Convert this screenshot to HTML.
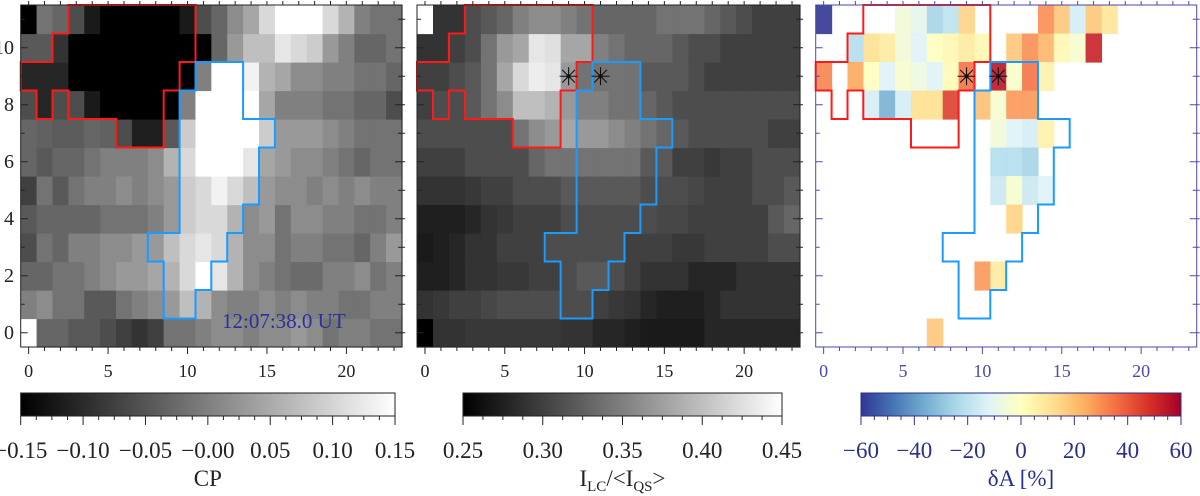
<!DOCTYPE html>
<html><head><meta charset="utf-8">
<style>
html,body{margin:0;padding:0;background:#fff;}
svg, svg text{display:block;font-family:"Liberation Serif","DejaVu Serif",serif;}
</style></head>
<body>
<svg id="fig" width="1200" height="496" viewBox="0 0 1200 496" font-family="Liberation Serif, serif" xmlns="http://www.w3.org/2000/svg"></svg>
<script>
// ---- data ----
// Panel 1: circular polarization CP, rows from y=0 (bottom) to y=11 (top), 24 columns each (gray fraction)
const cpGray = [
[1.0,0.4,0.4,0.35,0.35,0.3,0.25,0.2,0.25,0.45,0.45,0.5,0.55,0.55,0.5,0.55,0.55,0.6,0.55,0.45,0.5,0.5,0.45,0.45],
[0.5,0.55,0.45,0.45,0.35,0.35,0.45,0.5,0.55,0.6,0.75,0.7,0.55,0.5,0.5,0.55,0.5,0.55,0.5,0.5,0.45,0.45,0.5,0.5],
[0.4,0.4,0.45,0.45,0.5,0.55,0.6,0.6,0.65,0.7,0.85,1.0,0.9,0.7,0.55,0.5,0.45,0.42,0.42,0.5,0.5,0.55,0.45,0.5],
[0.3,0.45,0.4,0.5,0.5,0.55,0.55,0.6,0.6,0.75,0.85,0.9,0.85,0.7,0.55,0.55,0.45,0.5,0.5,0.45,0.45,0.4,0.5,0.6],
[0.35,0.4,0.4,0.4,0.4,0.45,0.45,0.45,0.5,0.6,0.8,0.85,0.85,0.7,0.55,0.6,0.45,0.55,0.55,0.5,0.5,0.45,0.45,0.5],
[0.25,0.45,0.35,0.45,0.5,0.5,0.55,0.5,0.55,0.6,0.8,0.85,0.95,0.85,0.75,0.6,0.55,0.55,0.5,0.55,0.5,0.55,0.5,0.5],
[0.4,0.35,0.4,0.4,0.45,0.5,0.5,0.5,0.55,0.7,0.85,1,1,1,0.9,0.65,0.6,0.55,0.55,0.5,0.45,0.4,0.45,0.45],
[0.4,0.38,0.36,0.36,0.4,0.38,0.3,0.12,0.12,0.35,0.8,1,1,1,1,0.8,0.6,0.6,0.6,0.55,0.5,0.45,0.45,0.45],
[0.3,0.15,0.3,0.3,0.1,0,0,0,0,0,0.5,1,1,1,1,0.65,0.5,0.5,0.5,0.45,0.45,0.4,0.4,0.3],
[0.15,0.15,0.15,0,0,0,0,0,0,0,0,0.5,1,1,0.95,0.7,0.65,0.55,0.55,0.5,0.5,0.45,0.45,0.4],
[0.35,0.35,0.2,0,0,0,0,0,0,0,0,0,0.4,0.6,0.75,0.75,0.9,0.85,0.8,0.6,0.5,0.4,0.4,0.45],
[0,0.45,0.4,0.3,0.1,0,0,0,0,0,0.1,0.3,0.4,0.55,0.65,0.85,1,1,1,0.85,0.7,0.5,0.45,0.45]
];
// Panel 2: continuum intensity (gray fraction of 0.25..0.45 range)
const icGray = [
[0.0,0.2,0.2,0.22,0.22,0.22,0.22,0.22,0.22,0.2,0.2,0.15,0.15,0.12,0.1,0.1,0.1,0.1,0.15,0.15,0.15,0.15,0.15,0.15],
[0.2,0.22,0.25,0.25,0.28,0.3,0.3,0.3,0.3,0.3,0.3,0.25,0.22,0.2,0.15,0.12,0.12,0.12,0.15,0.2,0.2,0.2,0.2,0.2],
[0.12,0.12,0.15,0.2,0.2,0.22,0.22,0.25,0.25,0.3,0.35,0.35,0.3,0.25,0.2,0.2,0.2,0.15,0.15,0.15,0.2,0.2,0.2,0.2],
[0.1,0.12,0.15,0.2,0.2,0.25,0.25,0.25,0.3,0.3,0.3,0.3,0.3,0.25,0.25,0.25,0.22,0.22,0.25,0.25,0.25,0.25,0.3,0.3],
[0.12,0.12,0.12,0.15,0.2,0.22,0.25,0.25,0.25,0.3,0.3,0.3,0.3,0.3,0.3,0.28,0.28,0.25,0.25,0.25,0.25,0.25,0.35,0.4],
[0.2,0.2,0.2,0.22,0.25,0.25,0.3,0.3,0.3,0.35,0.35,0.35,0.35,0.35,0.3,0.3,0.3,0.28,0.25,0.25,0.25,0.3,0.3,0.35],
[0.25,0.25,0.25,0.3,0.3,0.3,0.3,0.4,0.45,0.45,0.45,0.45,0.45,0.45,0.35,0.35,0.25,0.25,0.22,0.25,0.25,0.3,0.3,0.3],
[0.3,0.3,0.3,0.3,0.3,0.3,0.45,0.55,0.6,0.65,0.6,0.6,0.55,0.5,0.45,0.4,0.35,0.3,0.3,0.3,0.3,0.3,0.25,0.25],
[0.25,0.3,0.3,0.35,0.45,0.55,0.75,0.75,0.7,0.6,0.5,0.5,0.45,0.45,0.4,0.35,0.3,0.3,0.3,0.3,0.3,0.3,0.3,0.3],
[0.25,0.25,0.3,0.35,0.45,0.65,0.85,0.93,0.9,0.6,0.45,0.45,0.45,0.45,0.35,0.35,0.35,0.3,0.25,0.25,0.25,0.25,0.25,0.25],
[0.2,0.2,0.25,0.3,0.45,0.6,0.65,0.9,0.88,0.65,0.65,0.5,0.45,0.4,0.4,0.4,0.35,0.3,0.3,0.25,0.25,0.25,0.25,0.25],
[1.0,0.2,0.2,0.3,0.35,0.4,0.5,0.55,0.55,0.5,0.45,0.4,0.4,0.4,0.4,0.45,0.45,0.45,0.4,0.35,0.3,0.25,0.25,0.25]
];
// Panel 3: sparse δA [%] values
const daCols = [0,5,6,7,8,9,14,15,16,17,18, 2,3,4,5,6,7,8,9,10,12,13,14,15,16,17, 0,2,3,4,5,6,7,8,9,11,12,13,14, 3,4,5,6,7,8,10,11,12,13, 11,12,13,14, 11,12,13, 11,12,13,14, 12, 10,11, 7];
const daRows = [11,11,11,11,11,11,11,11,11,11,11, 10,10,10,10,10,10,10,10,10,10,10,10,10,10,10, 9,9,9,9,9,9,9,9,9,9,9,9,9, 8,8,8,8,8,8,8,8,8,8, 7,7,7,7, 6,6,6, 5,5,5,5, 4, 2,2, 0];
const daVals = [-60,-5,-10,-25,-20,15,30,18,-15,18,10, -22,12,8,-5,-12,0,3,8,3,18,30,22,3,-3,52, 32,25,0,-12,-3,-7,-12,2,35,55,-2,35,5, -15,-35,-15,12,12,45,20,-3,28,28, -5,-12,-15,5, -22,-22,-25, -17,-3,-17,-12, 15, 28,8, 18];
const xTicks = [0,5,10,15,20];
const yTicks = [0,2,4,6,8,10];
const cpTicks = ["-0.15","-0.10","-0.05","-0.00","0.05","0.10","0.15"];
const icTicks = ["0.25","0.30","0.35","0.40","0.45"];
const daTicks = ["-60","-40","-20","0","20","40","60"];
const redContour = [[2.5,11.5],[10.5,11.5],[10.5,9.5],[9.5,9.5],[9.5,8.5],[8.5,8.5],[8.5,6.5],[5.5,6.5],[5.5,7.5],[2.5,7.5],[2.5,8.5],[1.5,8.5],[1.5,7.5],[0.5,7.5],[0.5,8.5],[-0.5,8.5],[-0.5,9.5],[1.5,9.5],[1.5,10.5],[2.5,10.5]];
const blueContour = [[10.5,9.5],[13.5,9.5],[13.5,7.5],[15.5,7.5],[15.5,6.5],[14.5,6.5],[14.5,4.5],[13.5,4.5],[13.5,3.5],[12.5,3.5],[12.5,2.5],[11.5,2.5],[11.5,1.5],[10.5,1.5],[10.5,0.5],[8.5,0.5],[8.5,2.5],[7.5,2.5],[7.5,3.5],[9.5,3.5],[9.5,8.5],[10.5,8.5]];
const starsX = [9,11];
const starsY = [9,9];

// ---- rendering ----
const NS = "http://www.w3.org/2000/svg";
const svg = document.getElementById('fig');
const FONT = '"Liberation Serif", "DejaVu Serif", serif';
function mk(tag, attrs, parent){const e=document.createElementNS(NS,tag);for(const k in attrs)e.setAttribute(k,attrs[k]);if(tag==='text')e.style.fontFamily=FONT;(parent||svg).appendChild(e);return e;}
const TOP=5, BOT=347, NR=12, NC=24;
const panels=[{x0:20.7,x1:402},{x0:417,x1:800},{x0:815.7,x1:1196.7}];
function sx(p,v){return p.x0+(v+0.5)*(p.x1-p.x0)/NC;}
function sy(v){return BOT-(v+0.5)*(BOT-TOP)/NR;}
function grayCol(g){const c=Math.round(255*Math.max(0,Math.min(1,g)));return `rgb(${c},${c},${c})`;}
const rdylbu=[[49,54,149],[69,117,180],[116,173,209],[171,217,233],[224,243,248],[255,255,191],[254,224,144],[253,174,97],[244,109,67],[215,48,39],[165,0,38]];
function daColor(v){let t=(v+60)/120*10;t=Math.max(0,Math.min(10,t));const i=Math.min(9,Math.floor(t)),f=t-i;const a=rdylbu[i],b=rdylbu[i+1];return `rgb(${a.map((c,k)=>Math.round(c+(b[k]-c)*f)).join(',')})`;}
const cw=(panels[0].x1-panels[0].x0)/NC, ch=(BOT-TOP)/NR;

function drawGrid(p, data, name){
  const g=mk('g',{});
  
  
  data.forEach((row,r)=>row.forEach((v,c)=>{
    const rc=mk('rect',{x:sx(p,c)-cw/2,y:sy(r)-ch/2,width:cw+0.6,height:ch+0.6,fill:grayCol(v)},g);
    
    
  }));
}
drawGrid(panels[0], cpGray, 'cp-map');
drawGrid(panels[1], icGray, 'intensity-map');
const g3=mk('g',{});


daVals.forEach((v,i)=>{
  const rc=mk('rect',{x:sx(panels[2],daCols[i])-cw/2,y:sy(daRows[i])-ch/2,width:cw+0.6,height:ch+0.6,fill:daColor(v),'fill-opacity':0.9},g3);
  
  
});

function contour(p, pts, color, name){
  const d=pts.map((q,i)=>(i?'L':'M')+sx(p,q[0]).toFixed(1)+','+sy(q[1]).toFixed(1)).join(' ')+'Z';
  const e=mk('path',{d:d,fill:'none',stroke:color,'stroke-width':2});
  
  
}
panels.forEach((p,i)=>{contour(p,redContour,'#ff1a1a','red-contour');contour(p,blueContour,'#1a9bff','blue-contour');});

function star(p,x,y){
  const cx=sx(p,x),cy=sy(y),g=mk('g',{stroke:'#111','stroke-width':1.1});
  
  
  for(let k=0;k<4;k++){const a=k*Math.PI/4;mk('line',{x1:cx-9*Math.cos(a),y1:cy-9*Math.sin(a),x2:cx+9*Math.cos(a),y2:cy+9*Math.sin(a)},g);}
  mk('circle',{cx:cx,cy:cy,r:1.6,fill:'#111'},g);
}
[1,2].forEach(k=>starsX.forEach((x,i)=>star(panels[k],x,starsY[i])));

function axes(p, color, showY){
  const fr=mk('rect',{x:p.x0,y:TOP,width:p.x1-p.x0,height:BOT-TOP,fill:'none',stroke:color,'stroke-width':1});
  
  
  for(let v=0;v<=23;v++){const x=sx(p,v),L=(v%5===0)?7:4;
    mk('line',{x1:x,y1:BOT,x2:x,y2:BOT+L,stroke:color});
    mk('line',{x1:x,y1:TOP,x2:x,y2:TOP-Math.min(L,4),stroke:color});}
  for(let v=0;v<=11;v++){const y=sy(v),L=(v%2===0)?7:4;
    mk('line',{x1:p.x0,y1:y,x2:p.x0+L,y2:y,stroke:color});
    mk('line',{x1:p.x1,y1:y,x2:p.x1-L,y2:y,stroke:color});
    mk('line',{x1:p.x1,y1:y,x2:p.x1+3,y2:y,stroke:color});}
  xTicks.forEach(v=>{const t=mk('text',{x:sx(p,v),y:377,'text-anchor':'middle','font-size':18,fill:color});t.textContent=v;
    });
  if(showY) yTicks.forEach(v=>{const t=mk('text',{x:14,y:sy(v)+6,'text-anchor':'end','font-size':20,fill:color});t.textContent=v;
    });
}
axes(panels[0],'#222',true);
axes(panels[1],'#222',false);
axes(panels[2],'#4a4aa8',false);

const ts=mk('text',{x:222,y:328,'font-size':21,fill:'#2b2f9c'});ts.textContent='12:07:38.0 UT';


// colorbars
const defs=mk('defs',{});
function grad(id,stops){const lg=mk('linearGradient',{id:id,x1:0,x2:1,y1:0,y2:0},defs);stops.forEach((c,i)=>mk('stop',{offset:i/(stops.length-1),'stop-color':c},lg));}
grad('gGray',['#000','#fff']);
grad('gDA',rdylbu.map(c=>`rgb(${c.join(',')})`));
function cbar(x0,x1,fill,ticks,color,label,name){
  const r=mk('rect',{x:x0,y:393,width:x1-x0,height:23,fill:fill,stroke:color,'stroke-width':1});
  
  const n=ticks.length-1;
  for(let k=0;k<=n*4;k++){const x=x0+(x1-x0)*k/(n*4);mk('line',{x1:x,y1:416,x2:x,y2:k%4===0?425:420,stroke:color});}
  ticks.forEach((s,i)=>{const t=mk('text',{x:x0+(x1-x0)*i/n,y:458,'text-anchor':'middle','font-size':23,fill:color});t.textContent=s.replace('-','\u2212');
    });
  const l=mk('text',{x:(x0+x1)/2,y:486,'text-anchor':'middle','font-size':23,fill:color});l.innerHTML=label;
  
}
cbar(20.7,395,'url(#gGray)',cpTicks,'#222','CP','cp-colorbar');
cbar(463,782,'url(#gGray)',icTicks,'#222','I<tspan font-size="15" dy="5">LC</tspan><tspan dy="-5">/&lt;I</tspan><tspan font-size="15" dy="5">QS</tspan><tspan dy="-5">&gt;</tspan>','intensity-colorbar');
cbar(861,1181,'url(#gDA)',daTicks,'#2b2f8c','\u03B4A [%]','delta-a-colorbar');
</script>
</body></html>
